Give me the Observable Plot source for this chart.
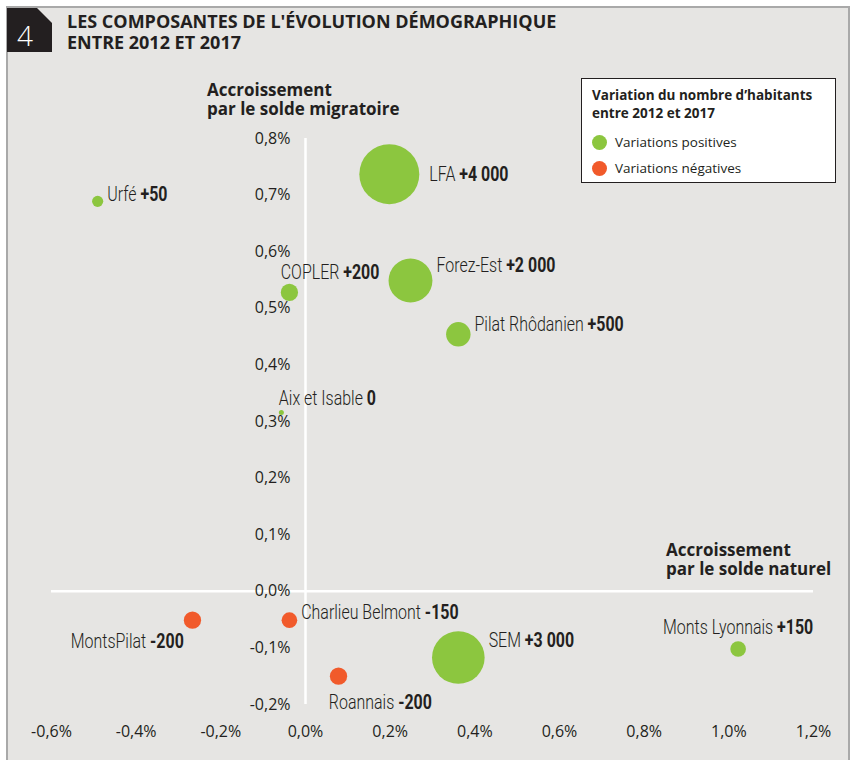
<!DOCTYPE html>
<html><head><meta charset="utf-8">
<script src="https://cdn.jsdelivr.net/npm/d3@7"></script>
<script src="https://cdn.jsdelivr.net/npm/@observablehq/plot@0.6"></script>
<style>
body{margin:0;background:#fff;}
#wrap{position:relative;width:852px;height:760px;overflow:hidden;font-family:"Open Sans",sans-serif;color:#231f20;}
#frame{position:absolute;left:6px;top:6px;width:844px;height:760px;box-sizing:border-box;background:#e6e5e3;border:2px solid #a9a9a9;border-bottom:none;}
#badge{position:absolute;left:7px;top:8px;width:45px;height:44px;background:#231f20;clip-path:polygon(0 0,30px 0,45px 15px,45px 44px,0 44px);}
#badge span{position:absolute;left:10px;top:8px;font-size:28px;font-weight:300;line-height:38px;color:#fff;}
#title{position:absolute;left:67px;top:11px;font-size:18px;font-weight:700;color:#231f20;white-space:nowrap;}
#title div{height:21px;line-height:21px;}
#chart{position:absolute;left:0;top:0;}
.axt{position:absolute;font-size:17px;font-weight:700;color:#231f20;white-space:nowrap;}
.axt div{height:19px;line-height:19px;}
#legend{position:absolute;left:581px;top:78px;width:255px;height:105px;box-sizing:border-box;background:#fff;border:1px solid #231f20;}
#legend .lt{position:absolute;left:10px;top:7px;font-size:13.5px;font-weight:700;white-space:nowrap;}
#legend .lt div{height:18px;line-height:18px;}
#legend .it{position:absolute;left:10px;font-size:13.5px;line-height:18px;white-space:nowrap;}
#legend .it i{display:inline-block;width:15px;height:15px;border-radius:50%;vertical-align:-3px;margin-right:8px;}
</style>
</head><body>
<div id="wrap">
  <div id="frame"></div>
  <div id="badge"><span>4</span></div>
  <div id="title"><div>LES COMPOSANTES DE L'ÉVOLUTION DÉMOGRAPHIQUE</div><div>ENTRE 2012 ET 2017</div></div>
  <div id="chart"></div>
  <div class="axt" style="left:207px;top:80px;"><div>Accroissement</div><div>par le solde migratoire</div></div>
  <div class="axt" style="left:666px;top:540px;"><div>Accroissement</div><div>par le solde naturel</div></div>
  <div id="legend"></div>
</div>
<script>
// ---- data ----
const names = ["LFA","Urfé","COPLER","Forez-Est","Pilat Rhôdanien","Aix et Isable","MontsPilat","Charlieu Belmont","Roannais","SEM","Monts Lyonnais"];
const soldeNaturel = [0.198,-0.491,-0.038,0.248,0.361,-0.057,-0.267,-0.038,0.078,0.361,1.022];
const soldeMigratoire = [0.737,0.689,0.528,0.549,0.454,0.316,-0.051,-0.051,-0.150,-0.117,-0.102];
const variation = [4000,50,200,2000,500,0,-200,-150,-200,3000,150];
const variationLabels = ["+4 000","+50","+200","+2 000","+500","0","-200","-150","-200","+3 000","+150"];
const labelPlacement = ["right","upper-right","above","upper-right","upper-right","above","lower-left","upper-right","below","upper-right","above-center"];
const xTicks = [-0.6,-0.4,-0.2,0,0.2,0.4,0.6,0.8,1.0,1.2];
const yTicks = [-0.2,-0.1,0,0.1,0.2,0.3,0.4,0.5,0.6,0.7,0.8];
const legendTitle = ["Variation du nombre d\u2019habitants","entre 2012 et 2017"];
const legendLabels = ["Variations positives","Variations négatives"];
const colors = ["#8cc63f","#f15a2b"];

// ---- helpers ----
const fmt = v => v.toFixed(1).replace(".", ",") + "%";
const rDomain = [0,4000], rRange = [2.5,30];
const rPx = d3.scalePow().exponent(0.5).domain(rDomain).range(rRange);
const idx = names.map((_, i) => i);
const cat = i => variation[i] >= 0 ? legendLabels[0] : legendLabels[1];
const condense = 0.76;

function placement(i) {
  const r = rPx(Math.abs(variation[i]));
  switch (labelPlacement[i]) {
    case "right": return {textAnchor: "start", dx: r + 10, dy: 0};
    case "upper-right": return {textAnchor: "start", dx: r + 4, dy: -(0.5 * r + 4)};
    case "above": return {textAnchor: "start", dx: -r, dy: -(r + 12)};
    case "above-center": return {textAnchor: "middle", dx: 0, dy: -(r + 14)};
    case "lower-left": return {textAnchor: "end", dx: -r, dy: r + 12};
    case "below": return {textAnchor: "start", dx: -r - 1, dy: r + 17};
  }
}

const labelMarks = idx.map(i => Plot.text([i], {
  x: j => soldeNaturel[j], y: j => soldeMigratoire[j],
  text: j => names[j] + "|" + variationLabels[j],
  ...placement(i),
  fontSize: 21, fill: "#231f20"
}));

const chart = Plot.plot({
  width: 852, height: 760,
  marginLeft: 51, marginRight: 39, marginTop: 138, marginBottom: 56,
  style: {background: "transparent", fontFamily: "'Open Sans', sans-serif", fontSize: "16px", color: "#231f20"},
  x: {domain: [-0.6, 1.2], ticks: xTicks, tickFormat: fmt, tickSize: 0, tickPadding: 21, label: null},
  y: {domain: [-0.2, 0.8], axis: null},
  r: {type: "sqrt", domain: rDomain, range: rRange},
  color: {domain: legendLabels, range: colors},
  marks: [
    Plot.ruleY([0], {stroke: "#fff", strokeWidth: 2.5}),
    Plot.ruleX([0], {stroke: "#fff", strokeWidth: 2.5}),
    Plot.text(yTicks, {x: d => 0, y: d => d, text: fmt, dx: -15, textAnchor: "end", fill: "#231f20", fontSize: 16}),
    Plot.dot(idx, {x: i => soldeNaturel[i], y: i => soldeMigratoire[i], r: i => Math.abs(variation[i]), fill: cat, stroke: "none"}),
    ...labelMarks
  ]
});
document.getElementById("chart").appendChild(chart);

// mixed weight labels: name light + value bold, horizontally condensed around the anchor
d3.select(chart).selectAll("text").filter(function() { return this.textContent.includes("|"); }).each(function() {
  const t = d3.select(this);
  const parts = this.textContent.split("|");
  t.selectAll("*").remove();
  t.text(null);
  t.attr("font-family", "Roboto, 'Open Sans', sans-serif").attr("font-size", 21).style("white-space", "pre");
  t.append("tspan").attr("font-weight", 300).text(parts[0] + " ");
  t.append("tspan").attr("font-weight", 700).text(parts[1]);
  const tr = t.attr("transform") || "";
  t.attr("transform", `${tr} scale(${condense},1)`);
});

// legend (HTML, colours from the chart's colour scale)
const color = chart.scale("color");
const lg = d3.select("#legend");
const lt = lg.append("div").attr("class", "lt");
legendTitle.forEach(s => lt.append("div").text(s));
legendLabels.forEach((l, k) => {
  const it = lg.append("div").attr("class", "it").style("top", (54 + k * 26) + "px");
  it.append("i").style("background", color.apply(l));
  it.append("span").text(l);
});
</script>
</body></html>
